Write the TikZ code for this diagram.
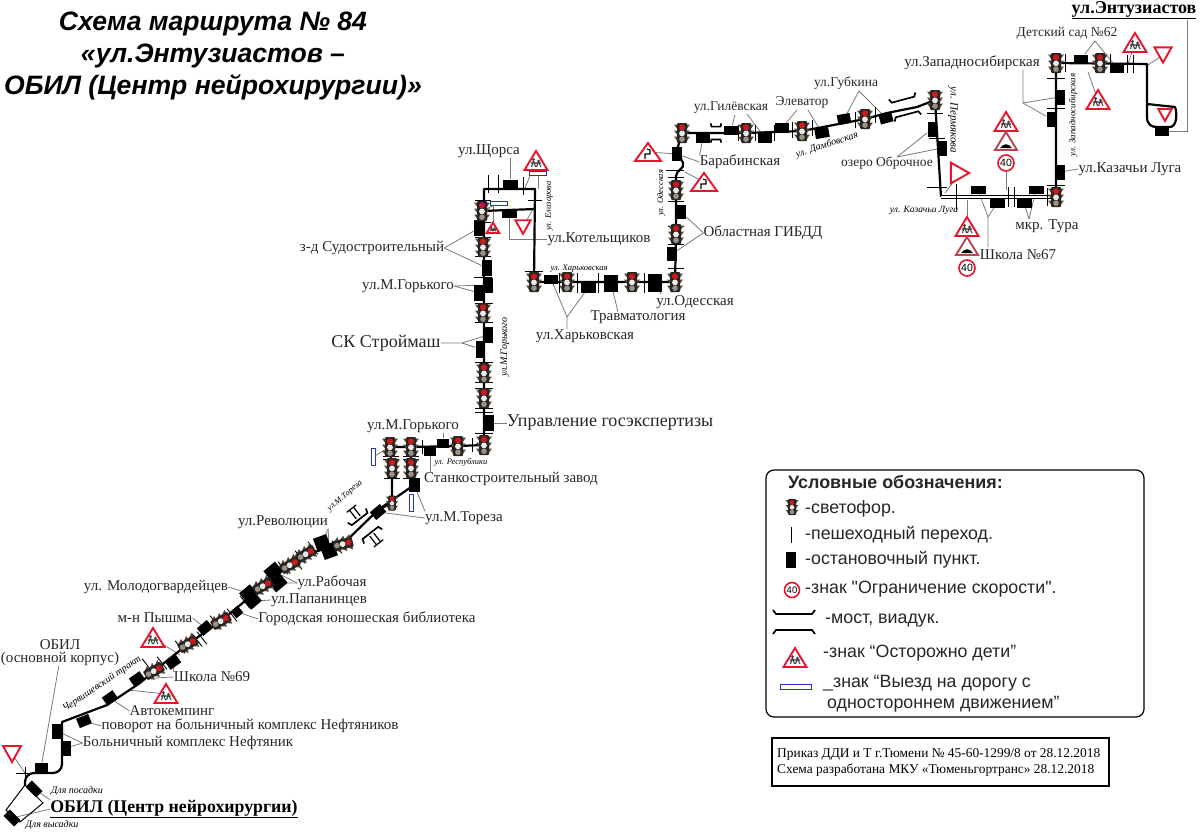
\documentclass[tikz,border=0pt]{standalone}
\usepackage{fontspec}
\setmainfont{Liberation Serif}
\newfontfamily\legendfont{Liberation Sans}
\usetikzlibrary{backgrounds}
\definecolor{signred}{HTML}{E8142C}
\definecolor{oneblue}{HTML}{2036C8}
\definecolor{leadgray}{HTML}{7A7A7A}
\definecolor{lampwing}{HTML}{5E4730}
\tikzset{
  route/.style={line width=2.2pt,line join=round},
  lane/.style={line width=1pt,double,double distance=1.6pt},
  leader/.style={draw=leadgray,line width=.8pt},
  xing/.style={line width=.9pt},
  stopbox/.style={fill=black,inner sep=0pt},
  lbl/.style={font=\fontsize{15}{17}\selectfont,inner sep=0pt,text=black!85},
  smalllbl/.style={font=\fontsize{13.5}{15}\selectfont,inner sep=0pt,text=black!85},
  biglbl/.style={font=\fontsize{18}{20}\selectfont,inner sep=0pt,text=black!85},
  street/.style={font=\fontsize{#1}{10}\selectfont\itshape,inner sep=0pt},
  street/.default=8.5,
  lgd/.style={font=\legendfont\fontsize{17.8}{20}\selectfont,inner sep=0pt,anchor=west,text=black!85},
  oneway/.style={draw=oneblue,fill=white,line width=1pt,inner sep=0pt,minimum width=17pt,minimum height=4pt},
  speed/.style={circle,draw=signred,fill=white,line width=1.6pt,inner sep=0pt,minimum size=16pt,font=\legendfont\fontsize{10.5}{11}\selectfont},
  signline/.style={draw=signred,line width=1.9pt,line join=miter,fill=white},
  lamp/.pic={
    \foreach \yy in {-5.5,.5,6.5}
      \fill[lampwing] (-8,\yy-3) -- (-4,\yy-3) -- (-4,\yy+2.5) -- cycle
                      (8,\yy-3) -- (4,\yy-3) -- (4,\yy+2.5) -- cycle;
    \fill[black!85,rounded corners=1pt] (-5,-10) rectangle (5,10);
    \fill[red!80!black!90] (0,-5.6) circle (3);
    \fill[black!8] (0,.4) circle (2.9);
    \fill[lampwing!60!white] (0,6.2) circle (2.8);
  },
  kidsign/.pic={
    \draw[signline] (0,-10) -- (11.5,9) -- (-11.5,9) -- cycle;
    \fill[black!75] (-2.5,-1.5) circle (1.5) (2.5,0) circle (1.5);
    \draw[black!75,line width=1.1pt] (-2.5,-1) -- (-4.5,6) (-2.5,0) -- (-.5,6) (2.5,0) -- (.5,6) (2.5,1) -- (5,6) (-5,2) -- (5,2);
  },
  yieldsign/.pic={\draw[signline] (-9,-8) -- (9,-8) -- (0,8) -- cycle;},
  bumpsign/.pic={
    \draw[draw=signred!55!gray,line width=1.9pt,fill=white] (0,-10) -- (11,8) -- (-11,8) -- cycle;
    \fill[black] (-6,6) .. controls (-2,1) and (2,1) .. (6,6) -- cycle;
  },
  curvesign/.pic={
    \draw[signline] (0,-9) -- (13,9) -- (-13,9) -- cycle;
    \draw[line width=1.1pt] (-3,7) -- (-3,2) -- (2,2) -- (2,-2) -- (-1,-3);
  },
  bridge/.pic={
    \draw[line width=1.7pt] (-21,-12) -- (-18,-8) -- (18,-8) -- (21,-12)
                            (-21,12) -- (-18,8) -- (18,8) -- (21,12);
  },
  underpass/.pic={
    \draw[line width=1.2pt] (-2.5,-11) -- (-2.5,-22) (2.5,-11) -- (2.5,-22) (-6,-22) -- (6,-22)
                            (-2.5,11) -- (-2.5,22) (2.5,11) -- (2.5,22) (-6,22) -- (6,22);
  },
}
\def\lamplist{lA/154/671/-60/1,lB/188/644/-60/1,lC/221/621/-60/1,lD/263/586/-60/1,lE/290/565/-60/1,
  lF/306/554/-60/1,lG/343/544/-75/1,lH/392/503/0/.75,lI/392/468/0/1,lJ/411/468/0/1,lK/390/447/0/1,
  lL/411/447/0/1,lM/458/446/0/1,lN/484/445/0/1,lO/484/398/0/1,lP/484/373/0/1,lQ/483/313/0/1,
  lR/483/247/0/1,lS/482/211/0/1,lT/534/282/0/1,lU/567/282/0/1,lV/632/282/0/1,lW/675/282/0/1,
  lX/676/234/0/1,lY/676/190/0/1,lZ/682/133/0/1,lAa/746/133/0/1,lAb/802/131/0/1,lAc/865/119/0/1,
  lAd/935/100/0/1,lAe/1056/197/0/1,lAf/1056/63/0/1,lAg/1100/63/0/1}
\begin{document}
\begin{tikzpicture}[x=1pt,y=-1pt]
  \useasboundingbox (0,0) rectangle (1200,833);
  % title
  \node[font=\legendfont\bfseries\itshape\fontsize{26.6}{32}\selectfont,align=center,inner sep=0pt] (title) at (213,55.5)
    {Схема маршрута № 84\\«ул.Энтузиастов –\\ОБИЛ (Центр нейрохирургии)»};
  % route
  \foreach \n/\x/\y/\a/\s in \lamplist \coordinate (\n) at (\x,\y);
  \foreach \n/\x/\y in {rA/25/773,rB/62/773,rC/62/722,rD/107/705,rE/140/683,rF/378/510,rG/414/485,
    rH/484/189,rI/535/189,rJ/535/209,rK/917/107,rL/887/113,rM/941/197,rN/1147/64,rO/1147/117,rP/25/785}
    \coordinate (\n) at (\x,\y);
  \draw[route] [rounded corners=9pt] (rP) -- (rA) -- (rB) [sharp corners] -- (rC) -- (rD) -- (rE) -- (lA) -- (lB) -- (lC)
    -- (lD) -- (lE) -- (lF) -- (lG) -- (rF) -- (rG) -- (lJ) -- (lL) -- (lM) -- (lN) -- (rH) -- (rI) -- (lT)
    -- (lU) -- (lV) -- (lW) -- (lX) -- (lY) -- (676,176) .. controls (676,170) and (685,169) .. (683,163)
    .. controls (682,158) and (677,158) .. (677,150) -- (lZ) -- (lAa) -- (lAb) -- (lAc) -- (rL) -- (rK) -- (lAd) -- (rM);
  \draw[route] (rF) -- (lH) -- (lI) -- (lK) -- (lL) (lS) -- (rJ);
  \draw[lane] (rM) -- (lAe);
  \draw[route] (lAe) -- (lAf) -- (rN) -- (rO) .. controls (1147,125) and (1152,127) .. (1157,127) -- (1170,127)
    .. controls (1176,127) and (1178,115) .. (1175,107) -- (1147,104);
  \draw[line width=1pt] (rP) -- (43,803) -- (20,822) -- (6,810) -- cycle;
  % stops
  \foreach \n/\x/\y/\w/\h/\a in {sA/34/789/15/9/-45,sB/12/818/15/9/-45,sC/41/768/13/10/0,sD/66/748/9/15/0,sE/57/731/10/15/0,
    sF/84/721/13/10/22,sG/110/698/13/10/35,sH/137/679/13/10/35,sI/173/662/13/10/35,sJ/205/628/13/10/40,sK/237/612/9/9/40,
    sL/248/593/14/11/40,sM/253/601/14/11/40,sN/273/571/15/12/40,sO/278/583/15/12/40,sP/322/543/14/14/20,sQ/329/551/14/14/20,
    sR/378/512/13/10/40,sS/414/485/11/14/0,sT/430/451/12/9/0,sU/443/443/12/9/0,sV/489/423/10/16/0,sW/488/335/10/16/0,
    sX/480/349/9/17/0,sY/479/293/10/16/0,sZ/488/285/10/15/0,sAa/487/268/10/16/0,sAb/479/228/10/16/0,sAc/510/184/15/9/0,
    sAd/509/213/15/9/0,sAe/551/279/14/9/0,sAf/588/288/15/10/0,sAg/611/283/14/17/0,sAh/655/283/14/18/0,sAi/672/254/10/14/0,
    sAj/681/212/10/14/0,sAk/677/154/10/14/0,sAl/703/138/14/10/0,sAm/731/130/14/9/0,sAn/765/138/14/10/0,sAo/782/128/14/10/0,
    sAp/822/133/14/10/10,sAq/844/119/13/10/10,sAr/886/118/13/10/15,sAs/932/129/9/15/0,sAt/942/148/9/15/0,sAu/978/190/15/8/0,
    sAv/997/203/15/9/0,sAw/1024/203/15/9/0,sAx/1036/190/15/8/0,sAy/1060/172/9/15/0,sAz/1051/119/9/15/0,sBa/1060/97/9/15/0,
    sBb/1081/59/14/9/0,sBc/1117/68/14/10/0,sBd/1162/131/14/9/0}
    \node[stopbox,minimum width=\w pt,minimum height=\h pt,rotate=\a] (\n) at (\x,\y) {};
  % crossings
  \foreach \x/\y/\l in {488/184/9,498/184/9,523/186/9,559/283/10,577/283/10,598/283/10,644/283/10,738/133/8,755/133/8,
    774/133/8,792/130/8,812/128/8,855/120/8,875/115/8,422/447/7,452/445/7,472/445/7,956/197/13,1008/197/10,1014/197/10,
    1047/197/9,1065/63/9,1110/63/9,1127/64/9,1133/64/9,25/773/6}
    \draw[xing] (\x,\y-\l) -- (\x,\y+\l);
  \foreach \x/\y/\l in {483/200/8,483/222/8,483/237/8,483/256/8,483/277/9,484/303/9,484/322/9,484/362/9,484/382/9,484/388/9,
    484/408/9,484/412/9,484/433/9,391/456/8,391/459/8,411/456/8,411/459/8,392/478/8,411/478/8,535/200/7,534/271/9,675/170/9,
    676/177/8,676/201/8,676/226/8,676/244/8,676/268/8,1056/78/9,1056/108/9,1056/185/9,935/113/8,937/138/8,937/187/10,25/773/9}
    \draw[xing] (\x-\l,\y) -- (\x+\l,\y);
  \foreach \x/\y in {147/665,162/663,180/647,197/640,202/638,215/622,232/615,245/602,283/568,297/563,300/557,313/548,337/547}
    \draw[xing] (\x,\y) ++(52:8) -- ++(232:16);
  % bridges
  \pic[rotate=38,xscale=.55,yscale=1.1] at (365,526) {bridge};
  \pic[rotate=38] at (365,526) {underpass};
  \pic[rotate=15,xscale=.65,yscale=.95] at (905,107) {bridge};
  \pic[xscale=.25,yscale=.8] at (716,133) {bridge};
  % lights
  \foreach \n/\x/\y/\a/\s in \lamplist \pic[rotate=\a,scale=\s] at (\n) {lamp};
  % signs
  \foreach \n/\x/\y in {kA/153/638,kB/166/694,kC/536/161,kD/1135/43,kE/1098/100,kF/1006/122,kG/967/227}
    {\coordinate (\n) at (\x,\y); \pic at (\n) {kidsign};}
  \coordinate (kH) at (493,228); \pic[scale=.55] at (kH) {kidsign};
  \foreach \n/\x/\y/\a/\s in {yA/12/754/0/1,yB/523/227/0/.85,yC/1163/55/0/.95,yD/1165/115/0/.75,yE/960/173/90/1.15}
    {\coordinate (\n) at (\x,\y); \pic[rotate=\a,scale=\s] at (\n) {yieldsign};}
  \foreach \x/\y in {1006/142,967/247} \pic at (\x,\y) {bumpsign};
  \coordinate (cA) at (648,152); \pic at (cA) {curvesign};
  \coordinate (cB) at (704,182); \pic at (cB) {curvesign};
  \node[speed] (vA) at (1006,163) {40};
  \node[speed] (vB) at (967,268) {40};
  \node[oneway] (wA) at (499,203) {};
  \node[oneway] (wB) at (538,173) {};
  \node[oneway,rotate=90] (wC) at (373,457) {};
  \node[oneway,rotate=90] (wD) at (411,503) {};
  % stop names
  \foreach \n/\x/\y/\t in {nEa/60/645/ОБИЛ,nEb/60/659/(основной корпус),nB/188/743/Больничный комплекс Нефтяник,
    nC/250/726/поворот на больничный комплекс Нефтяников,nD/172/711/Автокемпинг,nF/212/677/Школа №69,nG/155/618/м-н Пышма,
    nH/367/619/Городская юношеская библиотека,nI/156/587/ул. Молодогвардейцев,nJ/319/600/ул.Папанинцев,nK/332/583/ул.Рабочая,
    nL/283/522/ул.Революции,nM/464/518/ул.М.Тореза,nN/511/479/Станкостроительный завод,nO/413/426/ул.М.Горького,
    nP/408/286/ул.М.Горького,nQ/372/248/з-д Судостроительный,nR/489/151/ул.Щорса,nS/599/239/ул.Котельщиков,
    nT/585/336/ул.Харьковская,nU/638/317/Травматология,nV/695/302/ул.Одесская,nW/763/233/Областная ГИБДД,
    nX/740/162/Барабинская,nAc/972/63/ул.Западносибирская,nAe/1130/169/ул.Казачьи Луга,nAf/1047/226/мкр. Тура,nAg/1018/255/Школа №67}
    \node[lbl] (\n) at (\x,\y) {\t};
  \foreach \n/\x/\y/\t in {nY/731/108/ул.Гилёвская,nZ/802/102/Элеватор,nAa/846/83/ул.Губкина,nAb/887/163/озеро Оброчное,nAd/1067/33/Детский сад №62}
    \node[smalllbl] (\n) at (\x,\y) {\t};
  \node[biglbl] (nAh) at (386,343) {СК Строймаш};
  \node[biglbl] (nAi) at (610,423) {Управление госэкспертизы};
  \node[font=\bfseries\fontsize{18}{20}\selectfont,inner sep=0pt] (nEnt) at (1134,10) {\underline{ул.Энтузиастов}};
  \node[font=\bfseries\fontsize{17.8}{20}\selectfont,inner sep=0pt] (nObil) at (174,809) {\underline{ОБИЛ (Центр нейрохирургии)}};
  % street names
  \node[street=10] (tA) at (77,791) {Для посадки};
  \node[street=10] (tB) at (52,825) {Для высадки};
  \node[street=10,rotate=34] (tC) at (102,684) {Червишевский тракт};
  \node[street,rotate=40] (tD) at (345,496) {ул.М.Тореза};
  \node[street] (tE) at (461,462) {ул. Республики};
  \node[street=10,rotate=90] (tF) at (505,347) {ул.М.Горького};
  \node[street,rotate=90] (tG) at (549,206) {ул. Елизарова};
  \node[street] (tH) at (579,269) {ул. Харьковская};
  \node[street,rotate=90] (tI) at (661,193) {ул. Одесская};
  \node[street=10,rotate=18] (tJ) at (827,145) {ул. Дамбовская};
  \node[street=11,rotate=-90] (tK) at (953,120) {ул. Пермякова};
  \node[street=9.5] (tL) at (924,210) {ул. Казачьи Луга};
  \node[street=9,rotate=90] (tM) at (1073,115) {ул. Западносибирская};
  % leaders
  \begin{scope}[on background layer]
    \coordinate (cEnt) at (1187,20);
    \draw[leader] (cEnt) |- (sBd);
    \draw[leader] (nEb) -- (sC);
    \draw[leader] (yA) -- (25,773);
    \draw[leader] (nObil.north west) -- (sA);
    \draw[leader] (nObil.west) -- (sB);
    \draw[leader] (nB.west) -- (sD);
    \draw[leader] (nB.west) -- (sE);
    \draw[leader] (nC.west) -- (sF);
    \draw[leader] (nD.west) -- (sG);
    \draw[leader] (nF.west) -- (sH);
    \draw[leader] (nF.north west) -- (sI);
    \draw[leader] (kB) -- (128,690);
    \draw[leader] (kA) -- (180,655);
    \draw[leader] (nG.east) -- (sJ);
    \draw[leader] (nH.west) -- (sK);
    \draw[leader] (nI.east) -- (sL);
    \draw[leader] (nJ.west) -- (sM);
    \draw[leader] (nK.west) -- (sN);
    \draw[leader] (nK.west) -- (sO);
    \draw[leader] (nL.south east) -- (sP);
    \draw[leader] (nL.south east) -- (sQ);
    \draw[leader] (nM.west) -- (sR);
    \draw[leader] (nM.north west) -- (sS);
    \draw[leader] (sT |- nN.north) -- (sT);
    \draw[leader] (sU |- nO.south) -- (sU);
    \draw[leader] (wC) -- (lK);
    \draw[leader] (nAi.west) -- (sV);
    \coordinate (cStr) at (462,343);
    \draw[leader] (nAh.east) -- (cStr) -- (sW);
    \draw[leader] (cStr) -- (sX);
    \draw[leader] (nP.east) -- (sY);
    \draw[leader] (nP.east) -- (sZ);
    \draw[leader] (nQ.east) -- (sAb);
    \draw[leader] (nQ.east) -- (sAa);
    \draw[leader] (sAc |- nR.south) -- (sAc);
    \draw[leader] (nS.west) -| (sAd);
    \draw[leader] (kC) -- (525,188);
    \draw[leader] (wB) -- (538,189);
    \draw[leader] (wA) -- (lS);
    \draw[leader] (kH) -- (493,205);
    \draw[leader] (yB) -- (533,209);
    \coordinate (cKh) at (567,317);
    \draw[leader] (nT.north -| cKh) -- (cKh) -- (sAe);
    \draw[leader] (cKh) -- (sAf);
    \draw[leader] (618,312) -- (sAg);
    \draw[leader] (661,294) -- (sAh);
    \draw[leader] (nW.west) -- (sAj);
    \draw[leader] (nW.west) -- (sAi);
    \draw[leader] (nX.west) -- (sAk);
    \draw[leader] (nX.north west) -- (sAl);
    \draw[leader] (cB) -- (685,172);
    \draw[leader] (cA) -- (sAk);
    \draw[leader] (735,115) -- (sAm);
    \draw[leader] (747,114) -- (sAn);
    \draw[leader] (797,110) -- (sAo);
    \draw[leader] (808,110) -- (sAp);
    \draw[leader] (859,91) -- (sAq);
    \draw[leader] (859,91) -- (sAr);
    \draw[leader] (897,157) -- (sAs);
    \draw[leader] (897,157) -- (sAt);
    \draw[leader] (yE) -- (945,193);
    \draw[leader] (vA) -- (1006,190);
    \draw[leader] (kG) -- (967,200);
    \coordinate (cSc) at (988,217);
    \draw[leader] (988,247) -- (cSc) -- (sAu);
    \draw[leader] (cSc) -- (sAv);
    \draw[leader] (1029,219) -- (sAw);
    \draw[leader] (1029,219) -- (sAx);
    \draw[leader] (nAe.west) -- (sAy);
    \coordinate (cZs) at (1023,103);
    \draw[leader] (1023,70) -- (cZs) -- (sBa);
    \draw[leader] (cZs) -- (sAz);
    \draw[leader] (1095,41) -- (sBb);
    \draw[leader] (1095,41) -- (sBc);
    \draw[leader] (kE) -- (1088,72);
    \draw[leader] (kD) -- (1128,64);
    \draw[leader] (yC) -- (1148,65);
  \end{scope}
  % legend
  \draw[line width=1.2pt,rounded corners=8pt] (766,470) rectangle (1144,717);
  \node[lgd,font=\legendfont\bfseries\fontsize{17.9}{20}\selectfont] (lgTitle) at (788,482) {Условные обозначения:};
  \pic[scale=.8] at (792,507) {lamp};
  \node[lgd] (lgLamp) at (805,509) {-светофор.};
  \coordinate (lgXa) at (791,527); \coordinate (lgXb) at (791,543);
  \draw[line width=.9pt] (lgXa) -- (lgXb);
  \node[lgd] (lgCross) at (805,535) {-пешеходный переход.};
  \node[stopbox,minimum width=10pt,minimum height=16pt] (lgStop) at (791,560) {};
  \node[lgd] (lgStopT) at (805,560) {-остановочный пункт.};
  \node[speed,minimum size=15pt,font=\legendfont\fontsize{9.5}{10}\selectfont] (lgSpeed) at (792,590) {40};
  \node[lgd] (lgSpeedT) at (805,589) {-знак "Ограничение скорости".};
  \pic at (794,622) {bridge};
  \node[lgd] (lgBridge) at (825,621) {-мост, виадук.};
  \pic at (795,658) {kidsign};
  \node[lgd] (lgKid) at (823,653) {-знак “Осторожно дети”};
  \node[oneway,minimum width=31pt,minimum height=5pt,line width=1.5pt] (lgOne) at (796,687) {};
  \node[lgd] (lgOneT) at (823,683) {\_знак “Выезд на дорогу с};
  \node[lgd] (lgOneB) at (827,704) {одностороннем движением”};
  % order
  \draw[line width=1.2pt] (772,738) rectangle (1109,786);
  \node[font=\fontsize{13.4}{16}\selectfont,align=left,inner sep=0pt,anchor=west] (order) at (777,762)
    {Приказ ДДИ и Т г.Тюмени № 45-60-1299/8 от 28.12.2018\\Схема разработана МКУ «Тюменьгортранс» 28.12.2018};
\end{tikzpicture}
\end{document}
